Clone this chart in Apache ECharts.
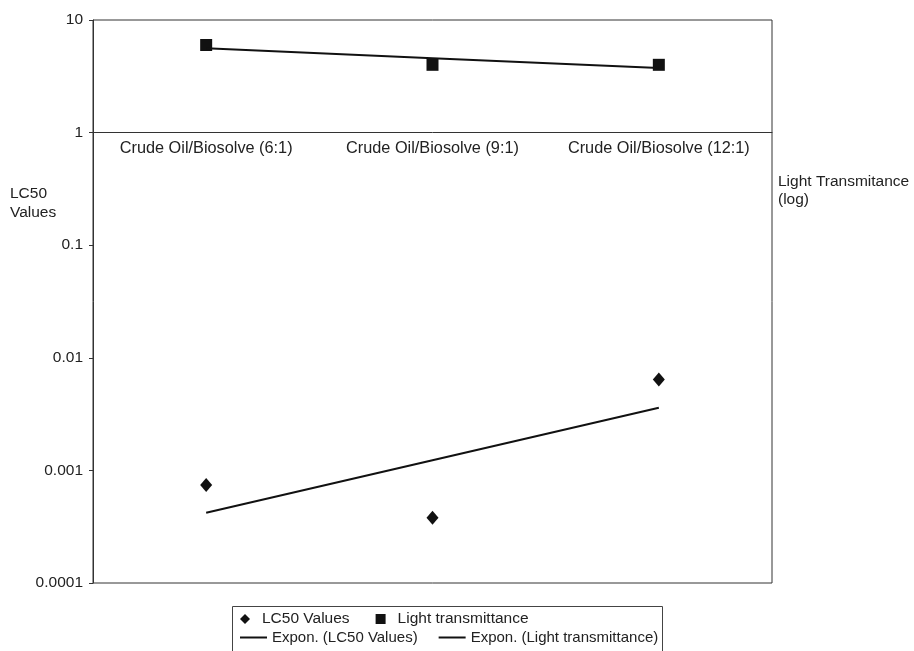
<!DOCTYPE html>
<html>
<head>
<meta charset="utf-8">
<script src="https://cdn.jsdelivr.net/npm/echarts@6/dist/echarts.min.js"></script>
<style>
  body { margin: 0; background: #fff; }
  #box { width: 914px; height: 651px; }
</style>
</head>
<body>
<div id="box"></div>
<script>
// data
var categories = ['Crude Oil/Biosolve (6:1)', 'Crude Oil/Biosolve (9:1)', 'Crude Oil/Biosolve (12:1)'];
var lc50Values = [0.00074, 0.00038, 0.0064];
var lightValues = [6.0, 4.0, 4.0];
var lc50Trend = [0.00042, 0.00123, 0.0036];   // Expon. trendline (LC50 Values)
var lightTrend = [5.6, 4.58, 3.75];           // Expon. trendline (Light transmittance)
var yTicks = [0.0001, 0.001, 0.01, 0.1, 1, 10];

var font = '"Liberation Sans", Arial, sans-serif';
var ink = '#111';
var txt = '#222';

var myChart = echarts.init(document.getElementById('box'));
var option = {
    animation: false,
    textStyle: { fontFamily: font },
    grid: {
        left: 93, right: 142, top: 20, bottom: 68,
        show: true, borderColor: '#333', borderWidth: 1
    },
    xAxis: {
        type: 'category',
        data: categories,
        position: 'top',
        offset: -112.6,   // puts the category axis across y = 1
        axisLine: { lineStyle: { color: '#333', width: 1 } },
        axisTick: { inside: true, interval: 0, length: 4, lineStyle: { color: '#333' } },
        axisLabel: { inside: true, interval: 0, hideOverlap: false, margin: 8, color: txt, fontSize: 16.3, fontFamily: font },
        splitLine: { show: false }
    },
    yAxis: {
        type: 'log',
        logBase: 10,
        min: yTicks[0],
        max: yTicks[yTicks.length - 1],
        axisLine: { show: true, lineStyle: { color: '#333', width: 1 } },
        axisTick: { show: true, length: 4, lineStyle: { color: '#333' } },
        axisLabel: {
            color: txt, fontSize: 15.5, fontFamily: font, margin: 10,
            formatter: function (v) { return String(Number(v.toPrecision(6))); }
        },
        splitLine: { show: false }
    },
    legend: [
        {
            left: 240, top: 611, padding: 0,
            itemWidth: 10, itemHeight: 10, itemGap: 26,
            selectedMode: false,
            textStyle: { color: txt, fontSize: 15.5, fontFamily: font, padding: [0, 0, 0, 7] },
            data: [
                { name: 'LC50 Values', icon: 'diamond', itemStyle: { color: ink, opacity: 1 } },
                { name: 'Light transmittance', icon: 'rect', itemStyle: { color: ink, opacity: 1 } }
            ]
        },
        {
            left: 240, top: 630, padding: 0,
            itemWidth: 27, itemHeight: 2, itemGap: 21,
            selectedMode: false,
            textStyle: { color: txt, fontSize: 15, fontFamily: font },
            data: [
                { name: 'Expon. (LC50 Values)', icon: 'rect', itemStyle: { color: ink } },
                { name: 'Expon. (Light transmittance)', icon: 'rect', itemStyle: { color: ink } }
            ]
        }
    ],
    graphic: [
        {
            type: 'rect', silent: true,
            shape: { x: 232.5, y: 606.5, width: 430, height: 60 },
            style: { fill: 'none', stroke: '#444', lineWidth: 1 }
        },
        {
            type: 'text', left: 10, top: 184,
            style: { text: 'LC50\nValues', font: '15.5px ' + font, fill: txt, lineHeight: 19 }
        },
        {
            type: 'text', left: 778, top: 173,
            style: { text: 'Light Transmitance\n(log)', font: '15.5px ' + font, fill: txt, lineHeight: 18 }
        }
    ],
    series: [
        {
            name: 'LC50 Values',
            type: 'scatter',
            symbol: 'diamond',
            symbolSize: [12, 14],
            itemStyle: { color: ink, opacity: 1 },
            data: lc50Values
        },
        {
            name: 'Light transmittance',
            type: 'scatter',
            symbol: 'rect',
            symbolSize: 12,
            itemStyle: { color: ink, opacity: 1 },
            data: lightValues
        },
        {
            name: 'Expon. (LC50 Values)',
            type: 'line',
            symbol: 'none',
            itemStyle: { color: ink },
            lineStyle: { color: ink, width: 2 },
            data: lc50Trend
        },
        {
            name: 'Expon. (Light transmittance)',
            type: 'line',
            symbol: 'none',
            itemStyle: { color: ink },
            lineStyle: { color: ink, width: 2 },
            data: lightTrend
        }
    ]
};
myChart.setOption(option);
</script>
</body>
</html>
